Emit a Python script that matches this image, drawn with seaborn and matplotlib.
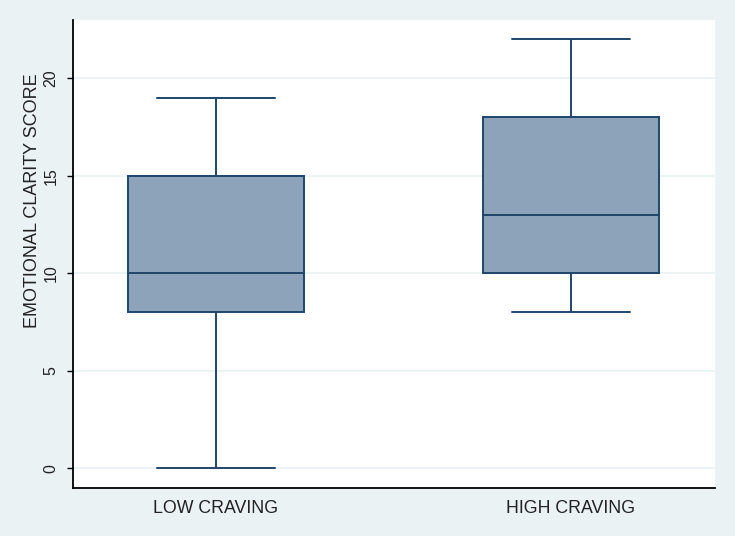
import pandas as pd
import matplotlib
matplotlib.use("Agg")
import matplotlib.pyplot as plt
import seaborn as sns

# five-number summaries
groups = ["LOW CRAVING", "HIGH CRAVING"]
low_craving = [0, 8, 10, 15, 19]
high_craving = [8, 10, 13, 18, 22]
y_ticks = [0, 5, 10, 15, 20]

df = pd.DataFrame({
    "group": [groups[0]] * len(low_craving) + [groups[1]] * len(high_craving),
    "score": low_craving + high_craving,
})

sns.set_theme(style="white")
plt.rcParams["font.family"] = ["Liberation Sans", "DejaVu Sans"]

bg = "#eaf2f3"
txt = "#222222"
fig = plt.figure(figsize=(7.35, 5.36), dpi=100, facecolor=bg)
ax = fig.add_axes([0.0993, 0.0896, 0.8735, 0.8731])
ax.set_facecolor("white")

sns.boxplot(data=df, x="group", y="score", order=groups, ax=ax,
            width=0.496, color="#8da3b9", linecolor="#1f456b",
            saturation=1, linewidth=1.4, whis=1.5)

# widen the whisker caps a bit (Stata-style)
for ln in ax.lines:
    xs = ln.get_xdata()
    ys = ln.get_ydata()
    if len(xs) == 2 and ys[0] == ys[1]:
        span = abs(xs[1] - xs[0])
        if abs(span - 0.248) < 0.01:
            c = (xs[0] + xs[1]) / 2
            ln.set_xdata([c - 0.166, c + 0.166])

ax.set_xlim(-0.403, 1.406)
ax.set_ylim(-1, 23)
ax.set_yticks(y_ticks)
ax.grid(axis="y", color=bg, linewidth=1.3)
ax.set_axisbelow(True)

for s in ["top", "right"]:
    ax.spines[s].set_visible(False)
for s in ["left", "bottom"]:
    ax.spines[s].set_color("black")
    ax.spines[s].set_linewidth(1.3)

ax.tick_params(axis="y", labelrotation=90, length=4.5, width=1.0,
               color="black", pad=6, labelsize=11.5, left=True, labelcolor=txt)
ax.tick_params(axis="x", length=0, pad=9, labelsize=12.8, labelcolor=txt)
for lab in ax.get_yticklabels():
    lab.set_va("center")

ax.set_xlabel("")
ax.set_ylabel("EMOTIONAL CLARITY SCORE", fontsize=13, va="center", color=txt)
ax.yaxis.set_label_coords(-0.0625, 0.613)

fig.savefig("out.png", dpi=100, facecolor=bg)
